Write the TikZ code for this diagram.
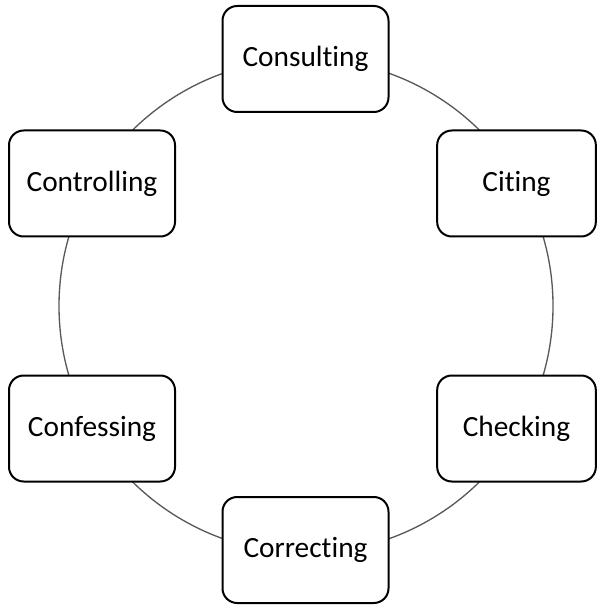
\documentclass[tikz,border=0pt]{standalone}
\usepackage{fontspec}
\setmainfont{Carlito}[Ligatures=CommonOff]
\usepackage{tikz}

\begin{document}
\begin{tikzpicture}
[
    x = 0.75pt, y = -0.75pt,
    ring/.style = {draw = black!65, line width = 1pt},
    stagebox/.style = {draw, fill = white, line width = 1.5pt, rounded corners = 11pt,
        minimum width = 124.5pt, minimum height = 79.5pt, inner sep = 0pt,
        font = \fontsize{22}{26}\selectfont},
    narrowbox/.style = {stagebox, minimum width = 119pt}]

\useasboundingbox (0,0) rectangle (597,605);
\coordinate (ctr) at (306,306);
\draw[ring] (ctr) circle (185.25pt);

\node[stagebox] (consulting) at (305.5,59) {Consulting};
\node[narrowbox] (citing) at (516.5,183.5) {Citing};
\node[narrowbox] (checking) at (516.5,428.5) {Checking};
\node[stagebox] (correcting) at (305.5,550) {Correcting};
\node[stagebox] (confessing) at (92,428.5) {Confessing};
\node[stagebox] (controlling) at (92,183.5) {Controlling};

\end{tikzpicture}
\end{document}
